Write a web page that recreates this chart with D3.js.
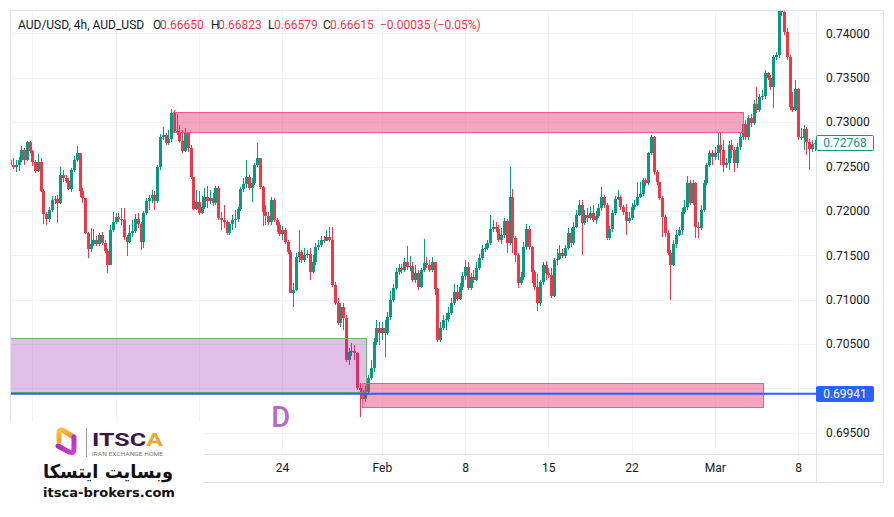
<!DOCTYPE html>
<html><head><meta charset="utf-8">
<script src="https://cdn.jsdelivr.net/npm/d3@7/dist/d3.min.js"></script>
<style>
body{margin:0;background:#fff;}
svg{display:block;font-family:Roboto,"Open Sans",sans-serif;}
</style>
</head><body>
<svg id="chart" width="894" height="517"></svg>
<script>
// ---------- DATA (prices in pips, 1 pip = 0.0001) ----------
const firstOpen = 7257;
const closes = [
7252,7249,7252,7257,7269,7257,7278,7268,7255,7245,
7255,7222,7197,7191,7201,7212,7213,7209,7240,7237,
7234,7225,7246,7257,7265,7222,7215,7175,7157,7163,
7167,7163,7173,7164,7155,7139,7179,7188,7193,7191,
7190,7171,7165,7175,7177,7191,7185,7165,7198,7211,
7215,7218,7211,7249,7283,7285,7276,7281,7310,7290,
7289,7279,7268,7288,7271,7238,7202,7210,7198,7204,
7216,7211,7215,7209,7226,7192,7190,7188,7175,7185,
7190,7191,7202,7225,7230,7238,7226,7231,7252,7260,
7227,7199,7194,7188,7212,7190,7184,7174,7179,7165,
7154,7108,7111,7148,7154,7145,7150,7151,7131,7142,
7159,7162,7167,7166,7171,7167,7117,7096,7074,7092,
7079,7032,7041,7042,7040,7001,6998,6988,6996,7012,
7023,7052,7068,7063,7068,7063,7081,7100,7113,7131,
7136,7133,7142,7137,7138,7122,7130,7114,7133,7141,
7139,7133,7142,7112,7055,7068,7077,7078,7085,7096,
7109,7101,7114,7127,7137,7113,7126,7122,7136,7147,
7157,7158,7164,7180,7182,7180,7167,7173,7189,7164,
7216,7170,7150,7119,7126,7159,7180,7159,7131,7114,
7096,7120,7139,7130,7128,7104,7145,7146,7153,7149,
7158,7175,7164,7182,7195,7207,7186,7195,7192,7198,
7190,7194,7203,7216,7207,7169,7180,7198,7213,7216,
7204,7199,7189,7192,7204,7207,7216,7219,7235,7231,
7265,7283,7244,7233,7215,7193,7175,7153,7139,7163,
7173,7179,7199,7204,7231,7209,7231,7182,7181,7201,
7231,7252,7265,7261,7265,7274,7269,7252,7254,7274,
7269,7254,7272,7283,7298,7283,7305,7299,7320,7314,
7328,7329,7355,7350,7340,7373,7376,7426,7424,7401,
7373,7317,7314,7337,7283,7282,7292,7278,7270,7275,
7276.8];
const highs = [
7277,7260,7257,7261,7273,7271,7279,7279,7269,7257,
7264,7260,7225,7199,7204,7217,7217,7218,7249,7246,
7240,7237,7248,7262,7273,7265,7226,7215,7176,7181,
7180,7172,7175,7176,7167,7157,7184,7199,7198,7198,
7203,7203,7173,7184,7190,7197,7198,7188,7200,7215,
7218,7224,7222,7252,7287,7294,7288,7291,7315,7314,
7309,7297,7291,7293,7289,7274,7238,7224,7222,7217,
7226,7228,7224,7220,7228,7228,7199,7207,7190,7188,
7195,7201,7204,7227,7237,7257,7240,7237,7254,7277,
7260,7228,7207,7199,7216,7215,7192,7188,7183,7181,
7167,7156,7119,7153,7179,7156,7158,7156,7158,7150,
7164,7167,7172,7172,7179,7182,7182,7120,7102,7096,
7096,7083,7046,7051,7049,7041,7006,7004,7003,7015,
7032,7057,7077,7075,7075,7077,7086,7110,7118,7136,
7140,7140,7147,7161,7149,7142,7139,7133,7136,7168,
7148,7145,7148,7142,7113,7075,7083,7085,7092,7102,
7118,7116,7119,7131,7145,7142,7130,7133,7142,7151,
7162,7163,7167,7195,7190,7188,7184,7181,7192,7191,
7249,7225,7172,7153,7131,7165,7185,7183,7160,7133,
7129,7122,7142,7144,7136,7136,7147,7157,7162,7157,
7162,7181,7181,7188,7201,7212,7212,7201,7203,7204,
7207,7200,7208,7227,7218,7209,7183,7201,7217,7224,
7218,7207,7208,7199,7209,7212,7233,7233,7237,7237,
7266,7285,7284,7246,7233,7217,7195,7179,7156,7167,
7179,7182,7203,7212,7239,7235,7235,7233,7188,7207,
7235,7254,7269,7269,7272,7289,7289,7280,7260,7279,
7280,7272,7277,7289,7305,7302,7308,7309,7325,7340,
7332,7336,7359,7356,7353,7376,7379,7441,7441,7426,
7406,7376,7334,7347,7338,7293,7297,7294,7281,7280,
7280];
const lows = [
7249,7247,7244,7245,7255,7252,7256,7265,7251,7243,
7244,7221,7185,7184,7188,7199,7208,7186,7208,7233,
7231,7224,7221,7244,7255,7216,7209,7174,7147,7154,
7161,7161,7161,7162,7153,7130,7139,7176,7185,7188,
7184,7167,7149,7164,7171,7175,7181,7156,7158,7195,
7201,7209,7201,7209,7246,7280,7274,7274,7278,7288,
7285,7277,7265,7266,7266,7236,7201,7201,7195,7197,
7202,7203,7208,7206,7207,7190,7179,7181,7173,7173,
7179,7181,7188,7200,7221,7226,7224,7210,7229,7249,
7225,7183,7184,7184,7184,7188,7176,7172,7167,7163,
7151,7107,7092,7110,7142,7141,7142,7147,7122,7130,
7139,7156,7159,7164,7166,7165,7114,7094,7072,7069,
7066,7030,7027,7037,7032,6998,6968,6981,6985,6993,
7010,7019,7049,7049,7055,7036,7060,7077,7097,7111,
7128,7130,7131,7133,7132,7120,7119,7111,7113,7131,
7136,7131,7131,7105,7052,7052,7066,7066,7075,7083,
7094,7099,7100,7111,7122,7111,7111,7119,7121,7133,
7145,7154,7156,7162,7176,7176,7165,7163,7169,7153,
7162,7153,7142,7113,7117,7122,7156,7156,7119,7111,
7087,7093,7117,7122,7124,7102,7103,7139,7145,7147,
7147,7156,7159,7162,7181,7194,7150,7184,7188,7190,
7188,7185,7192,7200,7203,7167,7167,7176,7195,7212,
7201,7195,7173,7186,7190,7201,7206,7215,7217,7228,
7229,7263,7240,7229,7212,7171,7171,7150,7100,7138,
7158,7172,7173,7196,7201,7207,7207,7170,7170,7179,
7199,7229,7249,7252,7257,7257,7252,7244,7248,7246,
7260,7244,7248,7269,7280,7280,7280,7295,7297,7310,
7311,7325,7326,7347,7336,7316,7370,7372,7420,7398,
7370,7314,7311,7313,7280,7280,7269,7263,7246,7266,
7268];

const priceTicks = [0.695,0.700,0.705,0.710,0.715,0.720,0.725,0.730,0.735,0.740];
const timeTickIndex = [8,38,68,98,134,164,194,224,254,284];
const timeTickLabels = ["3","10","17","24","Feb","8","15","22","Mar","8"];
const lastPrice = 0.72768;
const levelPrice = 0.69941;
// zones: [startIndex, endIndex, topPrice, bottomPrice]
const supplyZone = [58.7, 264.1, 0.73110, 0.72885];
const demandZone = [126.9, 271.2, 0.70059, 0.69796];
const purpleZone = [-1, 128.2, 0.70566, 0.69960];
const legendParts = [
  {t:"AUD/USD, 4h, AUD_USD", c:"#131722"},
  {t:"O", c:"#131722"},{t:"0.66650", c:"#f23645"},
  {t:"H", c:"#131722"},{t:"0.66823", c:"#f23645"},
  {t:"L", c:"#131722"},{t:"0.66579", c:"#f23645"},
  {t:"C", c:"#131722"},{t:"0.66615", c:"#f23645"},
  {t:"\u22120.00035 (\u22120.05%)", c:"#f23645"}];
const legendX = [18,153,160,211,218,268,274,323,330,380];

// ---------- LAYOUT ----------
const plot = {l:10, r:816, t:10, b:454};
const svg = d3.select("#chart");
const UP = "#089981", DOWN = "#f23645";

const N = closes.length;
const xs = d3.scaleLinear().domain([0, N-1]).range([10.2, 10.2 + 2.774*(N-1)]);
const ys = d3.scaleLinear().domain([0.695, 0.740]).range([432.9, 33.3]);

const candles = closes.map((c,i)=>{
  const o = i===0 ? firstOpen : closes[i-1];
  return {i, o:o/1e4, c:c/1e4, h:Math.max(highs[i],o,c)/1e4, l:Math.min(lows[i],o,c)/1e4};
});

svg.append("rect").attr("width",894).attr("height",517).attr("fill","#fff");

svg.append("defs").append("clipPath").attr("id","plotclip")
  .append("rect").attr("x",plot.l).attr("y",plot.t).attr("width",plot.r-plot.l).attr("height",plot.b-plot.t);

// grid
const grid = svg.append("g");
grid.selectAll(".hg").data(priceTicks).join("line")
  .attr("x1",plot.l).attr("x2",plot.r)
  .attr("y1",d=>Math.round(ys(d))+0.5).attr("y2",d=>Math.round(ys(d))+0.5)
  .attr("stroke","#f0f3fa").attr("stroke-width",1);
grid.selectAll(".vg").data(timeTickIndex).join("line")
  .attr("y1",plot.t).attr("y2",plot.b)
  .attr("x1",d=>Math.round(xs(d))+0.5).attr("x2",d=>Math.round(xs(d))+0.5)
  .attr("stroke","#f0f3fa").attr("stroke-width",1);

// candles
const cg = svg.append("g").attr("clip-path","url(#plotclip)").attr("shape-rendering","crispEdges");
cg.selectAll(".wick").data(candles).join("rect")
  .attr("x",d=>Math.round(xs(d.i)))
  .attr("width",1)
  .attr("y",d=>Math.round(ys(d.h)))
  .attr("height",d=>Math.max(1,Math.round(ys(d.l))-Math.round(ys(d.h))))
  .attr("fill",d=>d.c>=d.o?UP:DOWN);
cg.selectAll(".body").data(candles).join("rect")
  .attr("x",d=>Math.round(xs(d.i))-1)
  .attr("width",3)
  .attr("y",d=>Math.round(ys(Math.max(d.o,d.c))))
  .attr("height",d=>Math.max(1,Math.round(ys(Math.min(d.o,d.c)))-Math.round(ys(Math.max(d.o,d.c)))))
  .attr("fill",d=>d.c>=d.o?UP:DOWN);

// zones
const zg = svg.append("g").attr("clip-path","url(#plotclip)");
function zone(z, fill, stroke){
  zg.append("rect")
    .attr("x",Math.round(xs(z[0]))+0.5).attr("y",Math.round(ys(z[2]))+0.5)
    .attr("width",Math.round(xs(z[1]))-Math.round(xs(z[0])))
    .attr("height",Math.round(ys(z[3]))-Math.round(ys(z[2])))
    .attr("fill",fill).attr("stroke",stroke).attr("stroke-width",1);
}
zone(purpleZone,"rgba(156,39,176,0.3)","#66bb6a");
zone(supplyZone,"rgba(233,30,99,0.4)","#ec5a8c");
zone(demandZone,"rgba(233,30,99,0.4)","#ec5a8c");

// level line
zg.append("line").attr("x1",plot.l).attr("x2",plot.r)
  .attr("y1",ys(levelPrice)).attr("y2",ys(levelPrice))
  .attr("stroke","#2962ff").attr("stroke-width",2);

// "D" label
svg.append("text").attr("x",xs(97.5)).attr("y",ys(0.6957))
  .attr("text-anchor","middle").attr("font-size",29).attr("font-weight",500)
  .attr("fill","#ba68c8").text("D");

// frame
const frame = svg.append("g").attr("fill","none").attr("stroke","#e0e3eb").attr("shape-rendering","crispEdges");
frame.append("rect").attr("x",10).attr("y",10).attr("width",873).attr("height",472);
frame.append("line").attr("x1",10).attr("x2",883).attr("y1",454).attr("y2",454);
frame.append("line").attr("x1",816).attr("x2",816).attr("y1",10).attr("y2",482);

// price axis
const pa = svg.append("g").attr("transform",`translate(${plot.r},0)`)
  .call(d3.axisRight(ys).tickValues(priceTicks).tickFormat(d3.format(".5f")).tickSize(0).tickPadding(10));
pa.select(".domain").remove();
pa.selectAll("text").attr("font-size",12).attr("fill","#131722").attr("font-family","Roboto,sans-serif");
pa.selectAll(".tick").filter(d=>Math.abs(ys(d)-ys(levelPrice))<12).remove();

// time axis
const ta = svg.append("g").attr("transform",`translate(0,${plot.b})`)
  .call(d3.axisBottom(xs).tickValues(timeTickIndex).tickFormat((d,i)=>timeTickLabels[i]).tickSize(0).tickPadding(9));
ta.select(".domain").remove();
ta.selectAll("text").attr("font-size",12).attr("fill","#131722").attr("font-family","Roboto,sans-serif");
ta.selectAll(".tick").filter(d=>xs(d)<205).remove();

// price labels
function priceLabel(p, fill, stroke, color){
  const y = ys(p);
  svg.append("rect").attr("x",816.5).attr("y",Math.round(y)-7.5).attr("width",57).attr("height",15)
    .attr("rx",1).attr("fill",fill).attr("stroke",stroke);
  svg.append("text").attr("x",845).attr("y",y).attr("dy","0.35em").attr("text-anchor","middle")
    .attr("font-size",12).attr("fill",color).text(d3.format(".5f")(p));
}
priceLabel(lastPrice,"#fff",UP,UP);
priceLabel(levelPrice,"#2962ff","#2962ff","#fff");

// legend
const lg = svg.append("text").attr("y",29).attr("font-size",12);
legendParts.forEach((p,k)=>{
  lg.append("tspan").attr("x",legendX[k]).attr("fill",p.c).text(p.t);
});

// logo block
const logo = svg.append("g");
logo.append("rect").attr("x",0).attr("y",422).attr("width",204).attr("height",77).attr("fill","#fff");
const defs = svg.select("defs");
const g1 = defs.append("linearGradient").attr("id","gOr").attr("x1",0).attr("y1",0).attr("x2",1).attr("y2",1);
g1.append("stop").attr("offset",0).attr("stop-color","#f7c23a");
g1.append("stop").attr("offset",1).attr("stop-color","#f08a24");
const g2 = defs.append("linearGradient").attr("id","gPu").attr("x1",0).attr("y1",0).attr("x2",1).attr("y2",1);
g2.append("stop").attr("offset",0).attr("stop-color","#9c27b0");
g2.append("stop").attr("offset",1).attr("stop-color","#d63bd6");
logo.append("path").attr("d","M59,441 L59,433 Q59,429 63,430.5 L72,436")
  .attr("fill","none").attr("stroke","url(#gOr)").attr("stroke-width",5).attr("stroke-linecap","round").attr("stroke-linejoin","round");
logo.append("path").attr("d","M74,437 L74,449 Q74,454 69,452 L58,446")
  .attr("fill","none").attr("stroke","url(#gPu)").attr("stroke-width",5).attr("stroke-linecap","round").attr("stroke-linejoin","round");
logo.append("line").attr("x1",86.5).attr("x2",86.5).attr("y1",428).attr("y2",457).attr("stroke","#9a9a9a");
const it = logo.append("text").attr("x",92).attr("y",446).attr("font-size",19).attr("font-weight",700)
  .attr("font-family","Roboto,sans-serif").attr("textLength",71).attr("lengthAdjust","spacingAndGlyphs");
it.append("tspan").attr("fill","#3a1747").text("ITSC");
it.append("tspan").attr("fill","#f2a52a").text("A");
logo.append("text").attr("x",92).attr("y",456).attr("font-size",5).attr("fill","#777")
  .attr("textLength",71).attr("lengthAdjust","spacingAndGlyphs").text("IRAN EXCHANGE HOME");
logo.append("text").attr("x",108).attr("y",478).attr("text-anchor","middle").attr("font-size",19)
  .attr("font-weight",700).attr("font-family","DejaVu Sans,sans-serif").attr("fill","#111")
  .attr("textLength",130).attr("lengthAdjust","spacingAndGlyphs")
  .attr("direction","rtl").text("وبسایت ایتسکا");
logo.append("text").attr("x",43).attr("y",497).attr("font-size",13).attr("font-weight",700)
  .attr("font-family","DejaVu Sans,sans-serif").attr("fill","#111")
  .attr("textLength",132).attr("lengthAdjust","spacingAndGlyphs").text("itsca-brokers.com");
</script>
</body></html>
